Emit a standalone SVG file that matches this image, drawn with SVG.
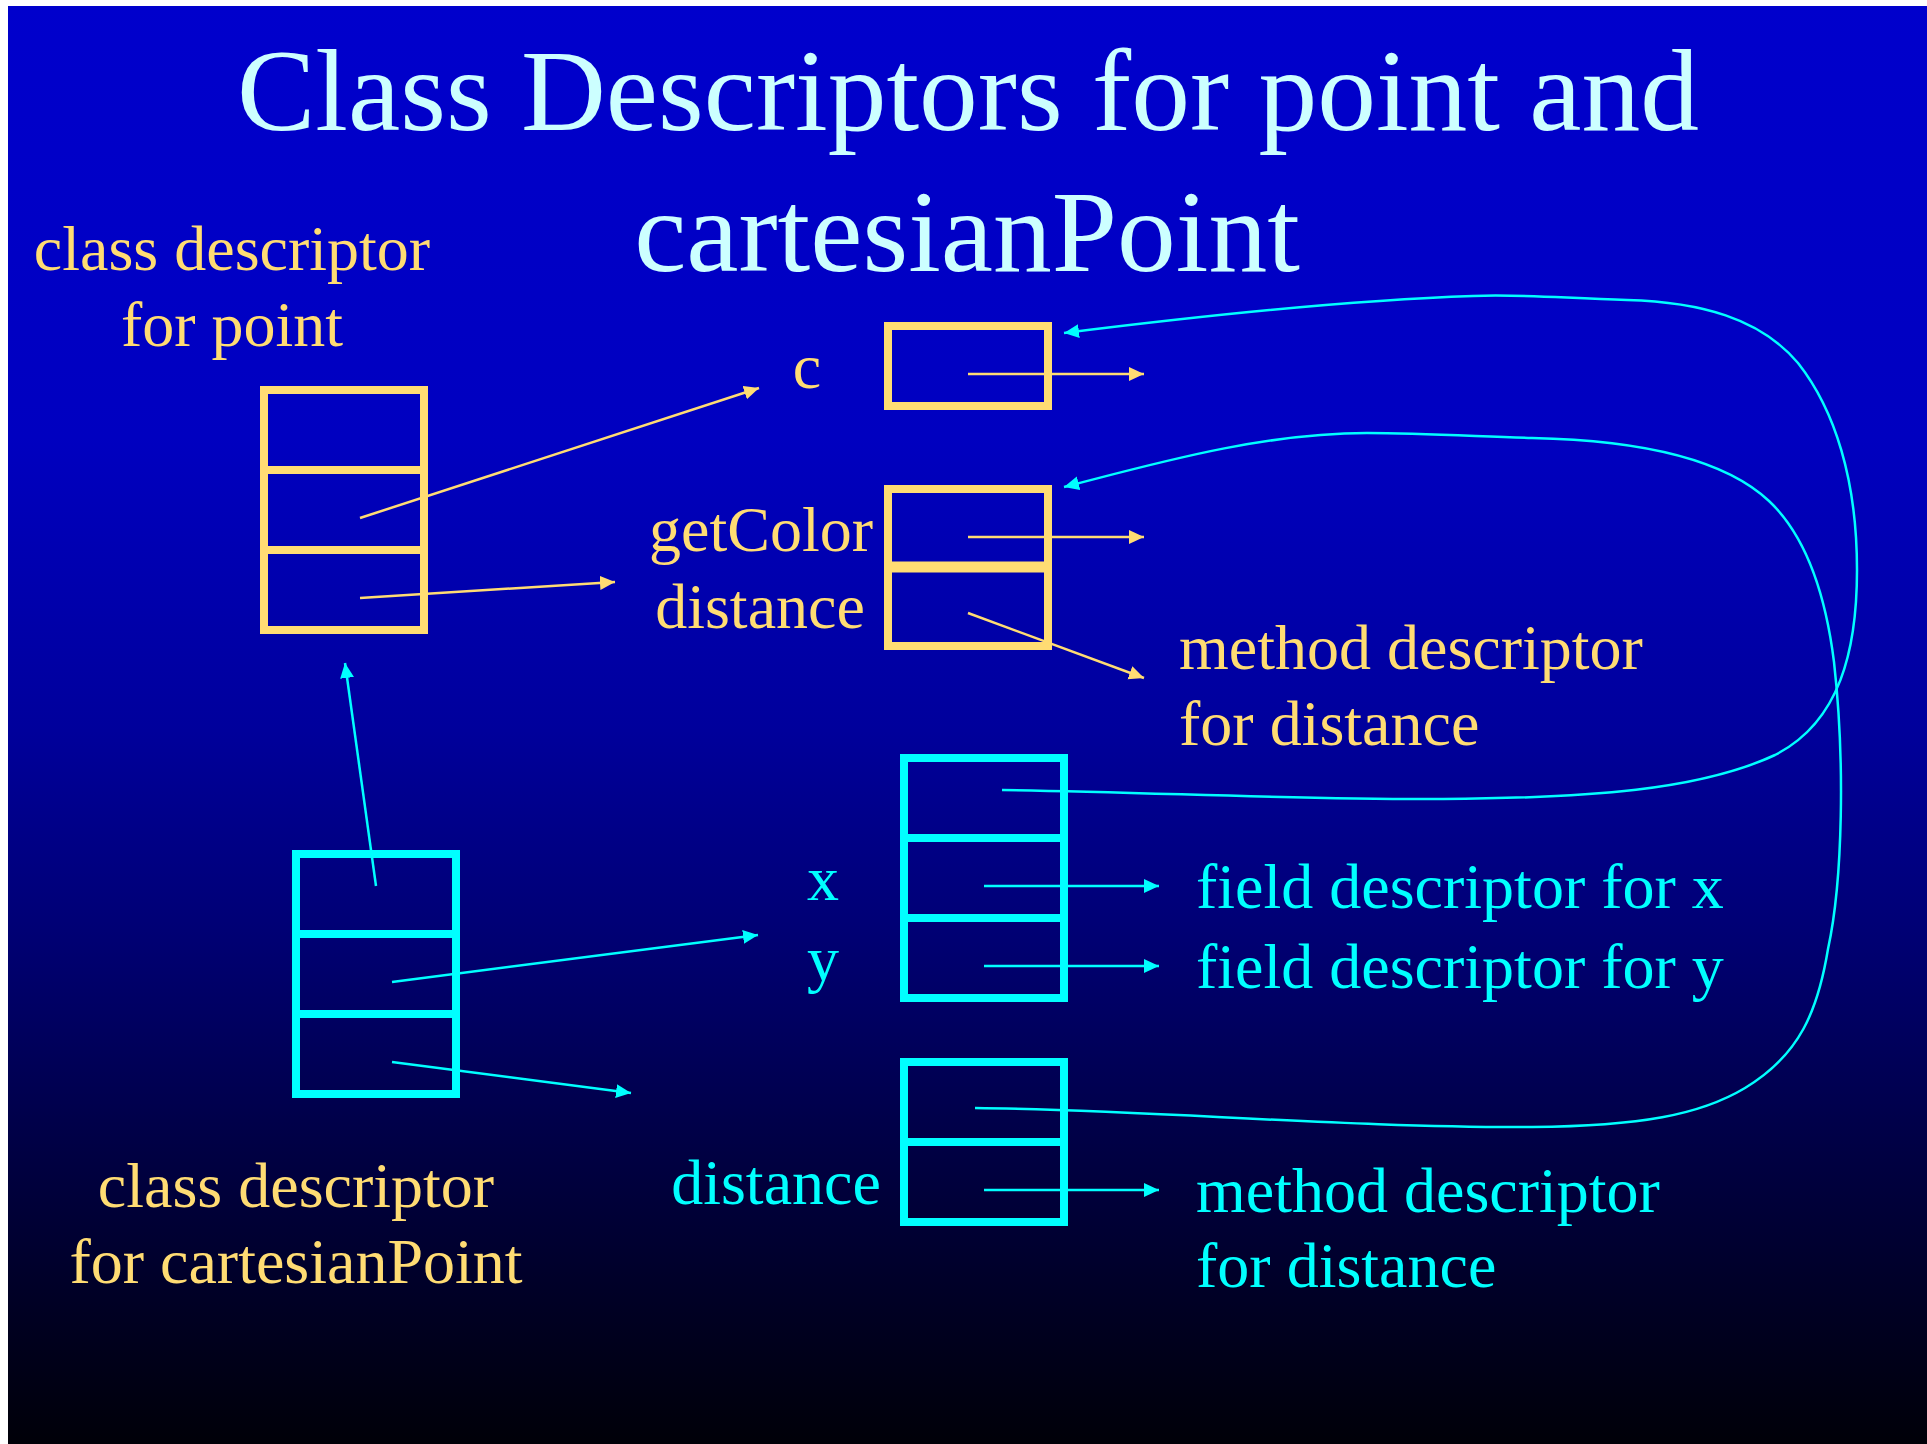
<svg xmlns="http://www.w3.org/2000/svg" width="1927" height="1444" viewBox="0 0 1927 1444">
<defs>
<linearGradient id="bg" x1="0" y1="0" x2="0" y2="1">
<stop offset="0" stop-color="#0000CC"/>
<stop offset="0.3" stop-color="#0000C0"/>
<stop offset="0.5" stop-color="#00009C"/>
<stop offset="0.65" stop-color="#000072"/>
<stop offset="0.8" stop-color="#000042"/>
<stop offset="1" stop-color="#000008"/>
</linearGradient>
<marker id="ay" markerUnits="userSpaceOnUse" markerWidth="16" markerHeight="16" refX="15" refY="7" orient="auto">
<path d="M0,0 L15,7 L0,14 z" fill="#FFDC73"/>
</marker>
<marker id="ac" markerUnits="userSpaceOnUse" markerWidth="16" markerHeight="16" refX="15" refY="7" orient="auto">
<path d="M0,0 L15,7 L0,14 z" fill="#00FFFF"/>
</marker>
</defs>
<style>
text{font-family:"Liberation Serif","Times New Roman",serif;}
.title{font-size:117.5px;fill:#CCFFFF;text-anchor:middle;}
.ly{font-size:64px;fill:#FFDC73;}
.lc{font-size:64px;fill:#00FFFF;}
.mid{text-anchor:middle;}
.by{fill:none;stroke:#FFDC73;stroke-width:8;}
.bc{fill:none;stroke:#00FFFF;stroke-width:8;}
.cy{fill:none;stroke:#FFDC73;stroke-width:2.5;marker-end:url(#ay);}
.cc{fill:none;stroke:#00FFFF;stroke-width:2.5;marker-end:url(#ac);}
</style>
<rect x="0" y="0" width="1927" height="1444" fill="#FFFFFF"/>
<rect x="8" y="6" width="1919" height="1438" fill="url(#bg)"/>

<g id="title">
<text class="title" x="968" y="130">Class Descriptors for point and</text>
<text class="title" x="967" y="271">cartesianPoint</text>
</g>

<g id="point-class">
<text class="ly mid" x="232" y="270">class descriptor</text>
<text class="ly mid" x="232" y="346">for point</text>
<rect class="by" x="264" y="390" width="160" height="240"/>
<line class="by" x1="264" y1="470" x2="424" y2="470"/>
<line class="by" x1="264" y1="550" x2="424" y2="550"/>
</g>

<g id="point-field-table">
<text class="ly mid" x="807" y="388">c</text>
<rect class="by" x="888" y="326" width="160" height="80"/>
</g>

<g id="point-method-table">
<text class="ly mid" x="761" y="551">getColor</text>
<text class="ly mid" x="760" y="628">distance</text>
<rect class="by" x="888" y="489" width="160" height="157"/>
<line x1="888" y1="567" x2="1048" y2="567" stroke="#FFDC73" stroke-width="11"/>
</g>

<g id="point-distance-descriptor">
<text class="ly" x="1179" y="669">method descriptor</text>
<text class="ly" x="1179" y="745">for distance</text>
</g>

<g id="cp-class">
<rect class="bc" x="296" y="854" width="160" height="240"/>
<line class="bc" x1="296" y1="934" x2="456" y2="934"/>
<line class="bc" x1="296" y1="1014" x2="456" y2="1014"/>
<text class="ly mid" x="296" y="1207">class descriptor</text>
<text class="ly mid" x="296" y="1283">for cartesianPoint</text>
</g>

<g id="cp-field-table">
<text class="lc mid" x="823" y="900">x</text>
<text class="lc mid" x="823" y="980">y</text>
<rect class="bc" x="904" y="758" width="160" height="240"/>
<line class="bc" x1="904" y1="838" x2="1064" y2="838"/>
<line class="bc" x1="904" y1="918" x2="1064" y2="918"/>
</g>

<g id="cp-field-descriptors">
<text class="lc" x="1196" y="908">field descriptor for x</text>
<text class="lc" x="1196" y="988">field descriptor for y</text>
</g>

<g id="cp-method-table">
<text class="lc mid" x="776" y="1204">distance</text>
<rect class="bc" x="904" y="1062" width="160" height="160"/>
<line class="bc" x1="904" y1="1142" x2="1064" y2="1142"/>
</g>

<g id="cp-distance-descriptor">
<text class="lc" x="1196" y="1212">method descriptor</text>
<text class="lc" x="1196" y="1287">for distance</text>
</g>

<g id="connectors">
<line class="cy" x1="360" y1="518" x2="759" y2="388"/>
<line class="cy" x1="360" y1="598" x2="615" y2="582"/>
<line class="cy" x1="968" y1="374" x2="1144" y2="374"/>
<line class="cy" x1="968" y1="537" x2="1144" y2="537"/>
<line class="cy" x1="968" y1="613" x2="1144" y2="678"/>
<line class="cc" x1="376" y1="886" x2="345" y2="663"/>
<line class="cc" x1="392" y1="982" x2="758" y2="935"/>
<line class="cc" x1="392" y1="1062" x2="631" y2="1093"/>
<line class="cc" x1="984" y1="886" x2="1159" y2="886"/>
<line class="cc" x1="984" y1="966" x2="1159" y2="966"/>
<line class="cc" x1="984" y1="1190" x2="1159" y2="1190"/>
<path class="cc" d="M1002,790 C1150,792 1300,800 1443,799 C1590,798 1700,790 1775,755 C1840,722 1857,650 1857,570 C1857,480 1835,410 1798,363 C1760,318 1700,302 1627,300 C1560,298 1520,294 1473,296 C1350,300 1200,316 1064,333"/>
<path class="cc" d="M975,1108 C1150,1110 1350,1128 1532,1127 C1640,1126 1700,1115 1745,1088 C1800,1055 1818,1010 1828,949 C1843,880 1845,760 1834,662 C1825,590 1805,535 1769,501 C1720,455 1630,440 1532,438 C1470,436 1420,433 1367,433 C1260,433 1150,465 1064,487"/>
</g>
</svg>
